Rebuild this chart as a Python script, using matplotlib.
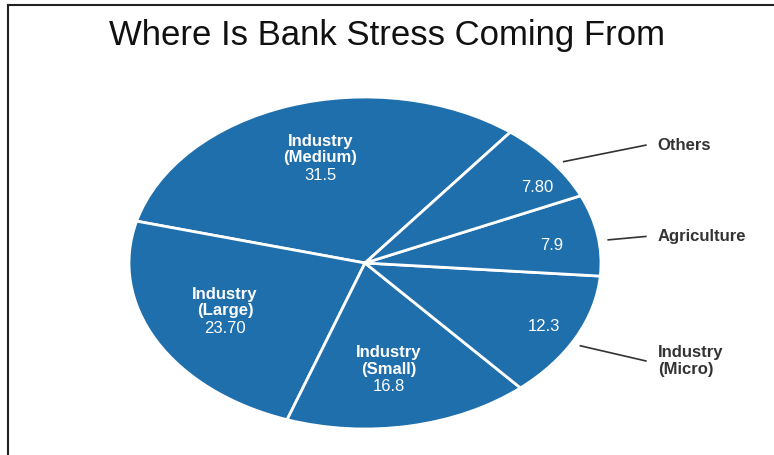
import matplotlib.pyplot as plt
from matplotlib.lines import Line2D
import numpy as np

plt.rcParams['font.family'] = ['Liberation Sans', 'DejaVu Sans']

# sectors in drawing order (counter-clockwise from the Others/Medium edge)
sectors = ['Industry\n(Medium)', 'Industry\n(Large)', 'Industry\n(Small)',
           'Industry\n(Micro)', 'Agriculture', 'Others']
shares = [31.5, 23.70, 16.8, 12.3, 7.9, 7.80]
share_text = ['31.5', '23.70', '16.8', '12.3', '7.9', '7.80']
# which sectors get their name outside with a leader line
outside = [False, False, False, True, True, True]

blue = '#1f6fad'
start = 52

fig = plt.figure(figsize=(7.74, 4.55), dpi=100)
ax = fig.add_axes([0, 0, 1, 1])

wedges, _ = ax.pie(shares, startangle=start, counterclock=True,
                   colors=[blue] * len(shares),
                   wedgeprops=dict(edgecolor='white', linewidth=2))
ax.set_aspect('auto')
ax.set_xlim(-365 / 236, (774 - 365) / 236)
ax.set_ylim(-192 / 166, 263 / 166)
ax.axis('off')

label_r = [0.66, 0.66, 0.65, 0.85, 0.80, 0.86]
label_shift = [-2, -2, -2, 0, -2, -6]
label_y = {'Others': 0.71, 'Agriculture': 0.16, 'Industry\n(Micro)': -0.59}
line_pt = 12.4

for w, name, txt, r, sh, out in zip(wedges, sectors, share_text, label_r,
                                    label_shift, outside):
    mid = np.deg2rad((w.theta1 + w.theta2) / 2 + sh)
    x, y = r * np.cos(mid), r * np.sin(mid)
    if out:
        ax.text(x, y, txt, color='white', fontsize=12, ha='center', va='center')
        amid = np.deg2rad((w.theta1 + w.theta2) / 2 - 2)
        x0, y0 = 1.04 * np.cos(amid), 1.04 * np.sin(amid)
        ty = label_y[name]
        ax.add_line(Line2D([x0, 1.19], [y0, ty], color='#333333', lw=1.2))
        ax.text(1.24, ty, name, color='#333333', fontsize=12, fontweight='bold',
                ha='left', va='center', linespacing=1.1)
    else:
        ax.annotate(name, (x, y), xytext=(0, line_pt / 2),
                    textcoords='offset points', color='white', fontsize=12,
                    fontweight='bold', ha='center', va='center',
                    linespacing=1.12)
        ax.annotate(txt, (x, y), xytext=(0, -line_pt),
                    textcoords='offset points', color='white', fontsize=12,
                    ha='center', va='center')

fig.text(387 / 774, 1 - 36 / 455, 'Where Is Bank Stress Coming From',
         fontsize=25, color='#111111', ha='center', va='center')

# outer frame (top and left edges)
fig.add_artist(Line2D([8 / 774, 1], [1 - 5 / 455, 1 - 5 / 455],
                      transform=fig.transFigure, color='#222222', lw=1.5))
fig.add_artist(Line2D([8 / 774, 8 / 774], [0, 1 - 5 / 455],
                      transform=fig.transFigure, color='#222222', lw=1.5))

fig.savefig('out.png', dpi=100)
